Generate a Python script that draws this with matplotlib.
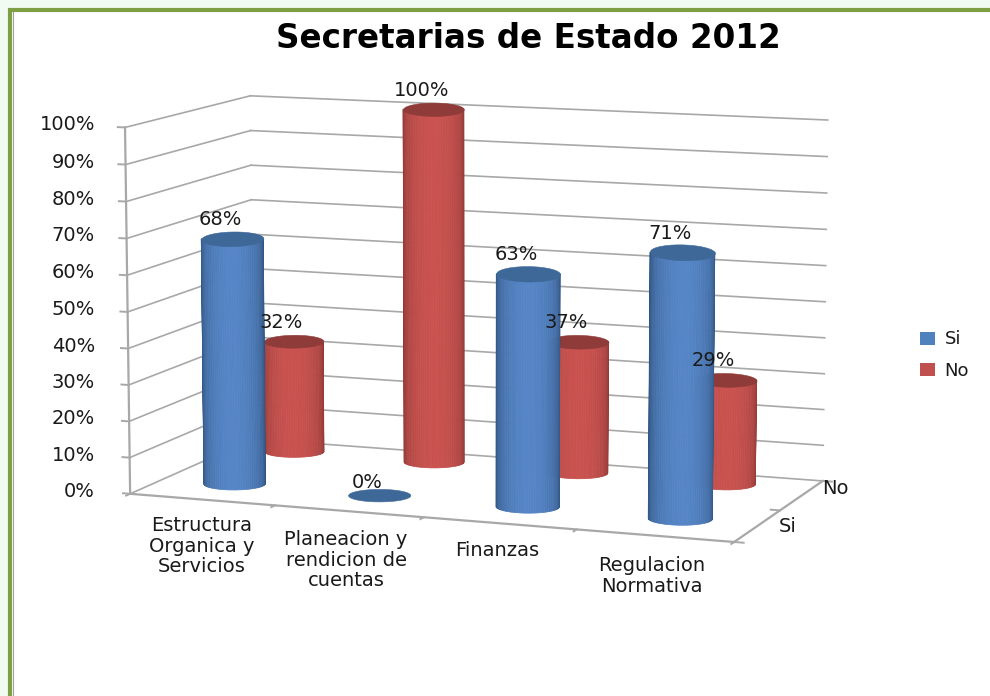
import numpy as np
import matplotlib
matplotlib.use('Agg')
import matplotlib.pyplot as plt
from matplotlib.lines import Line2D
from matplotlib.patches import Patch, Rectangle
from matplotlib.colors import to_rgb
from mpl_toolkits.mplot3d import proj3d
from mpl_toolkits.mplot3d.art3d import Poly3DCollection

W, H = 990, 696

categories = ["Estructura\nOrganica y\nServicios", "Planeacion y\nrendicion de\ncuentas",
              "Finanzas", "Regulacion\nNormativa"]
series_names = ["Si", "No"]
si_values = [68, 0, 63, 71]
no_values = [32, 100, 37, 29]
z_ticks = list(range(0, 101, 10))

# label placement, pixels
cat_label_xy = [(202, 546), (346, 560), (497, 550), (652, 576)]
series_label_xy = [(788, 526), (835, 489)]

blue, blue_dark, blue_top = "#5585C6", "#2C4F7A", "#3E6898"
red, red_dark, red_top = "#C9524F", "#8A3634", "#8E3B39"
grid_col = "#A8A8A8"

# camera, fitted by hand against the box corners
elev, azim, focal = 9.204, -69.37, 0.984
radius = 0.198
si_x, si_y = 0.4933, 0.5361
no_x, no_y = 0.4345, 1.6815

fig = plt.figure(figsize=(W / 100, H / 100), dpi=100, facecolor="#F2FBF2")
fig.add_artist(Rectangle((10 / W, -0.1), 1.2, 1.1 - 10 / H, transform=fig.transFigure, facecolor="white",
                         edgecolor="#7F9F45", linewidth=3, zorder=-1))
fig.add_artist(Line2D([12.5 / W, 12.5 / W], [0, 1 - 12 / H], color="#A0A0A0", lw=0.8, zorder=-0.5))

ax = fig.add_axes([0.08542, -0.00771, 0.77608, 1.10391], projection="3d", computed_zorder=False)
ax.patch.set_visible(False)
ax.set_zorder(2)
ax.set_xlim(0, 4)
ax.set_ylim(0, 2)
ax.set_zlim(0, 100)
ax.view_init(elev=elev, azim=azim)
ax.set_proj_type("persp", focal_length=focal)
ax.set_box_aspect((1, 0.4844, 0.5843))
ax.set_axis_off()
ax.apply_aspect()
M = ax.get_proj()


def to_px(x, y, z):
    xs, ys, _ = proj3d.proj_transform(np.array([x], float), np.array([y], float), np.array([z], float), M)
    p = ax.transData.transform((xs[0], ys[0]))
    return p[0], H - p[1]


def put_text(px, py, s, **kw):
    kw.setdefault("fontsize", 14)
    kw.setdefault("color", "#1a1a1a")
    kw.setdefault("ha", "center")
    kw.setdefault("va", "center")
    fig.text(px / W, 1 - py / H, s, **kw)


def line3(a, b, lw=1.2, zorder=1):
    ax.plot([a[0], b[0]], [a[1], b[1]], [a[2], b[2]], color=grid_col, lw=lw, zorder=zorder,
            solid_capstyle="projecting")


# walls
for z in z_ticks:
    line3((0, 0, z), (0, 2, z))
    line3((0, 2, z), (4, 2, z))
    line3((0, 0, z), (-0.05, 0, z), lw=1.4)

# axes on the floor
line3((0, 0, 0), (0, 0, 100), lw=1.6)
line3((0, 0, 0), (4, 0, 0), lw=1.6)
line3((4, 0, 0), (4, 2, 0), lw=1.6)
for i in range(5):
    line3((i, 0, 0), (i, -0.06, 0), lw=1.4)
for j in range(3):
    line3((4, j, 0), (4 - 0.06, j, 0) if j == 1 else (4.06, j, 0), lw=1.4)


def shade(col, dark, t):
    c0, c1 = np.array(to_rgb(col)), np.array(to_rgb(dark))
    return c0 + (c1 - c0) * t ** 1.9


def cylinder(cx, cy, value, col, dark, top, zo):
    az = np.radians(azim)
    if value > 0:
        # only the half that faces the camera, the rest is hidden anyway
        th = az + np.linspace(-np.pi / 2, np.pi / 2, 41)
        xs = cx + radius * np.cos(th)
        ys = cy + radius * np.sin(th)
        quads, cols = [], []
        for k in range(len(th) - 1):
            quads.append([(xs[k], ys[k], 0), (xs[k + 1], ys[k + 1], 0),
                          (xs[k + 1], ys[k + 1], value), (xs[k], ys[k], value)])
            mid = abs((th[k] + th[k + 1]) / 2 - az) / (np.pi / 2)
            cols.append(shade(col, dark, min(mid, 1.0)))
        ax.add_collection3d(Poly3DCollection(quads, facecolors=cols, edgecolors=cols, linewidths=0.5,
                                             zsort="min", zorder=zo))
    # the caps in the picture stay open at full height, so open them along the view direction
    stretch = 1 + 1.0 * value / 100
    t = np.linspace(0, 2 * np.pi, 73)
    along, across = radius * stretch * np.cos(t), radius * np.sin(t)
    cap_x = cx + along * np.cos(az) - across * np.sin(az)
    cap_y = cy + along * np.sin(az) + across * np.cos(az)
    cap = [list(zip(cap_x, cap_y, np.full_like(t, value)))]
    ax.add_collection3d(Poly3DCollection(cap, facecolors=top, edgecolors=top, linewidths=0.4, zorder=zo + 1))


# back row first, so Si sits in front of No
zo = 5
for i, v in enumerate(no_values):
    cylinder(i + no_x, no_y, v, red, red_dark, red_top, zo)
    zo += 2
for i, v in enumerate(si_values):
    cylinder(i + si_x, si_y, v, blue, blue_dark, blue_top, zo)
    zo += 2

# data labels
for i in range(4):
    px, py = to_px(i + si_x, si_y, si_values[i])
    put_text(px - 12, py - (19 if si_values[i] else 13), f"{si_values[i]}%")
    px, py = to_px(i + no_x, no_y, no_values[i])
    put_text(px - 12, py - 19, f"{no_values[i]}%")

# z tick labels
for z in z_ticks:
    px, py = to_px(0, 0, z)
    put_text(95, py - 2.5, f"{z}%", ha="right")

for lab, (px, py) in zip(categories, cat_label_xy):
    put_text(px, py, lab, linespacing=1.1)
for lab, (px, py) in zip(series_names, series_label_xy):
    put_text(px, py, lab)

put_text(528, 38, "Secretarias de Estado 2012", fontsize=23.5, fontweight="bold", color="black")

handles = [Patch(facecolor="#4F81BD", label=series_names[0]), Patch(facecolor="#C0504D", label=series_names[1])]
fig.legend(handles=handles, loc="center left", bbox_to_anchor=(911 / W, 1 - 355 / H), frameon=False,
           fontsize=13, handlelength=0.85, handleheight=0.7, handletextpad=0.5, labelspacing=0.72,
           borderpad=0, labelcolor="#1a1a1a")

fig.savefig("out.png", dpi=100, facecolor=fig.get_facecolor())
